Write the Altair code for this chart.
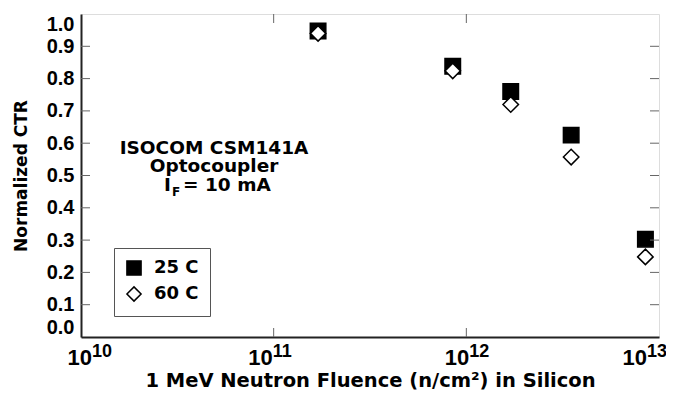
import altair as alt
import pandas as pd

# ---- data ----
fluence = [1.7e11, 8.5e11, 1.7e12, 3.5e12, 8.5e12]
ctr_25c = [0.947, 0.838, 0.760, 0.625, 0.303]
ctr_60c = [0.940, 0.824, 0.720, 0.557, 0.248]
series = ["25 C", "60 C"]
decades = [1e10, 1e11, 1e12, 1e13]
exponents = ["10", "11", "12", "13"]
inner_decades = [1e11, 1e12]
y_label_values = [0.0, 0.1, 0.2, 0.3, 0.4, 0.5, 0.6, 0.7, 0.8, 0.9, 1.0]
y_tick_values = [0.1, 0.2, 0.3, 0.4, 0.5, 0.6, 0.7, 0.8, 0.9]
note_lines = ["ISOCOM CSM141A", "Optocoupler"]
note_current = ["I", "F", "= 10 mA"]
x_title = "1 MeV Neutron Fluence (n/cm\u00b2) in Silicon"
y_title = "Normalized CTR"

W, H = 578, 323
FONT = "DejaVu Sans"
TICKFONT = "Liberation Sans"

df = pd.DataFrame({
    "fluence": fluence + fluence,
    "ctr": ctr_25c + ctr_60c,
    "series": [series[0]] * len(fluence) + [series[1]] * len(fluence),
})
dec_df = pd.DataFrame({"fluence": decades, "exp": exponents, "base": ["10"] * len(decades)})
inner_df = pd.DataFrame({"fluence": inner_decades})
ytick_df = pd.DataFrame({"ctr": y_tick_values})

xscale = alt.Scale(type="log", domain=[decades[0], decades[-1]], nice=False)
yscale = alt.Scale(domain=[0, 1], nice=False)

x_axis = alt.Axis(
    title=x_title, labels=False, ticks=False, grid=False,
    domainColor="#222", domainWidth=2,
    titleFont=FONT, titleFontSize=19.5, titleFontWeight="bold", titleColor="black",
    titleY=49, titleBaseline="alphabetic")
y_axis = alt.Axis(
    title=y_title, values=y_label_values, format=".1f", ticks=False, grid=False,
    domainColor="#222", domainWidth=2,
    labelFont=TICKFONT, labelFontSize=20, labelFontWeight="bold", labelColor="black",
    labelPadding=7, labelFlush=True,
    titleFont=FONT, titleFontSize=17, titleFontWeight="bold", titleColor="black",
    titleX=-60, titleBaseline="middle")

X = alt.X("fluence:Q", scale=xscale, axis=x_axis)
Y = alt.Y("ctr:Q", scale=yscale, axis=y_axis)

legend = alt.Legend(
    title=None, orient="none", legendX=33, legendY=234,
    strokeColor="#555", fillColor="white", padding=11,
    labelFont=FONT, labelFontSize=18, labelFontWeight="bold", labelColor="black",
    labelOffset=11, rowPadding=4, symbolSize=200,
    symbolStrokeColor="black", symbolStrokeWidth=1.5,
)

points = alt.Chart(df).mark_point(
    filled=True, strokeWidth=1.5, size=240, opacity=1
).encode(
    x=X, y=Y,
    shape=alt.Shape("series:N", scale=alt.Scale(domain=series, range=["square", "diamond"]), legend=legend),
    fill=alt.Fill("series:N", scale=alt.Scale(domain=series, range=["black", "white"]), legend=legend),
    stroke=alt.Stroke("series:N", scale=alt.Scale(domain=series, range=["black", "black"]), legend=legend),
)

tick_color = "#666"
left_ticks = alt.Chart(ytick_df).mark_rule(color=tick_color, strokeWidth=1).encode(
    y=Y, x=alt.value(0), x2=alt.value(9))
right_ticks = alt.Chart(ytick_df).mark_rule(color=tick_color, strokeWidth=1).encode(
    y=Y, x=alt.value(W - 9), x2=alt.value(W))
bottom_ticks = alt.Chart(inner_df).mark_rule(color=tick_color, strokeWidth=1).encode(
    x=X, y=alt.value(H - 9), y2=alt.value(H))
top_ticks = alt.Chart(inner_df).mark_rule(color=tick_color, strokeWidth=1).encode(
    x=X, y=alt.value(0), y2=alt.value(9))


def decade_labels(filter_expr, dx):
    base = alt.Chart(dec_df).transform_filter(filter_expr)
    b = base.mark_text(align="right", baseline="alphabetic", font=TICKFONT, fontSize=22,
                       fontWeight="bold", color="black", dx=dx).encode(
        x=X, y=alt.value(H + 28), text="base:N")
    e = base.mark_text(align="left", baseline="alphabetic", font=TICKFONT, fontSize=18,
                       fontWeight="bold", color="black", dx=dx).encode(
        x=X, y=alt.value(H + 19.5), text="exp:N")
    return [b, e]


lab_layers = (
    decade_labels("datum.fluence < 5e10", 11)
    + decade_labels("datum.fluence > 5e10 && datum.fluence < 5e11", -1)
    + decade_labels("datum.fluence > 5e11 && datum.fluence < 5e12", 3)
    + decade_labels("datum.fluence > 5e12", -12)
)


def text_at(t, x, y, size, align="left"):
    return alt.Chart(pd.DataFrame({"t": [t]})).mark_text(
        align=align, baseline="alphabetic", font=FONT, fontSize=size, fontWeight="bold", color="black"
    ).encode(x=alt.value(x), y=alt.value(y), text="t:N")


note_layers = [
    text_at(note_lines[0], 133, 140, 18.5, "center"),
    text_at(note_lines[1], 133, 158, 18.5, "center"),
    text_at(note_current[0], 83, 177, 18.5),
    text_at(note_current[1], 91, 182, 12),
    text_at(note_current[2], 102, 177, 18.5),
]

chart = alt.layer(
    points, left_ticks, right_ticks, bottom_ticks, top_ticks, *lab_layers, *note_layers
).properties(
    width=W, height=H,
    autosize=alt.AutoSizeParams(type="none"),
    padding={"left": 73, "top": 6, "right": 7, "bottom": 53},
).configure_view(stroke="#555", strokeWidth=1.5).configure(background="white")

chart.save("out.html", embed_options={"renderer": "svg", "actions": False})
